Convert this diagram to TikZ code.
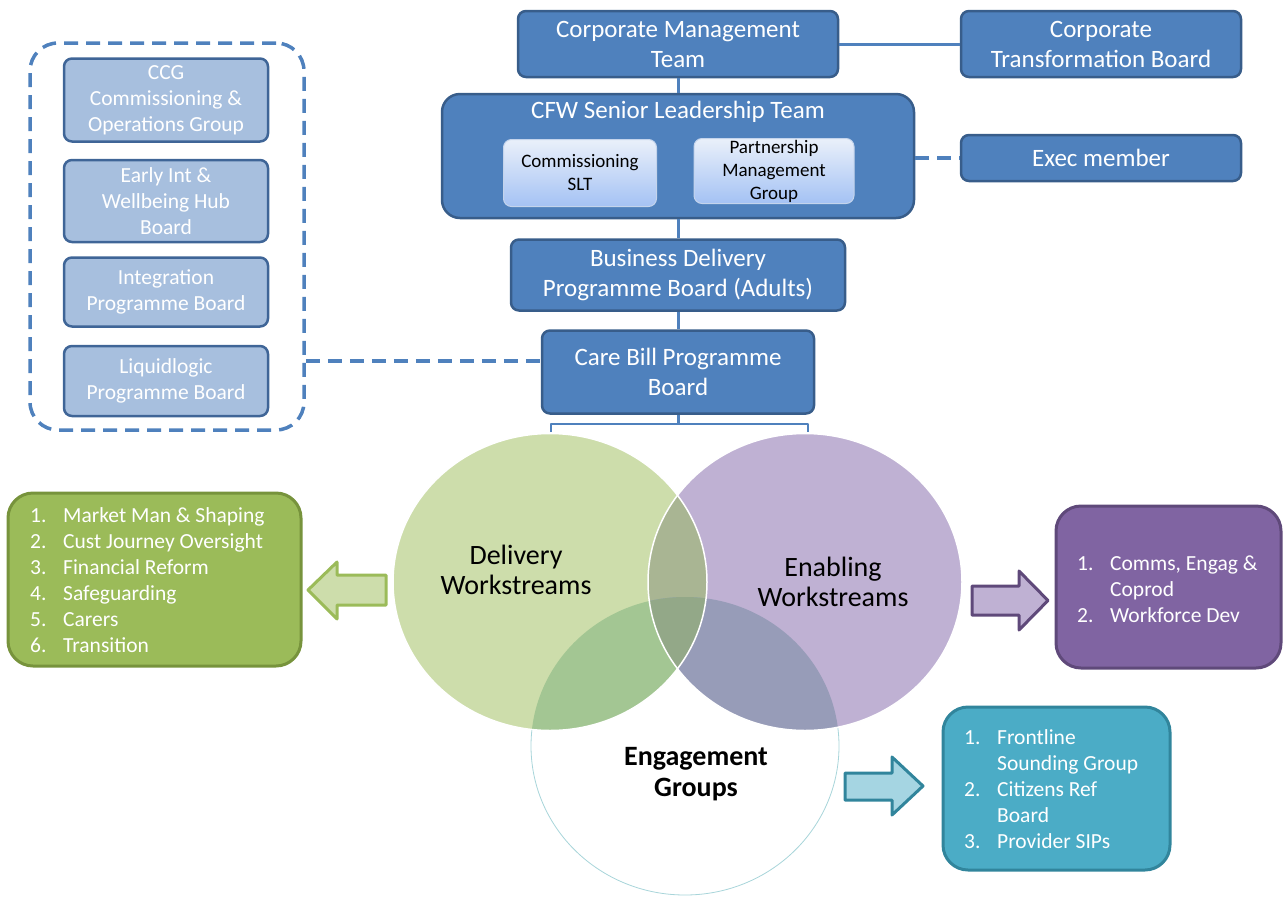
\documentclass[tikz,border=0pt]{standalone}
\usepackage{fontspec}
\setmainfont{Carlito}
\usepackage{tikz}
\usetikzlibrary{positioning}
\usepackage{xcolor}
\definecolor{boardblue}{HTML}{4F81BD}
\definecolor{boarddark}{HTML}{385D8A}
\definecolor{subblue}{HTML}{A7BFDE}
\definecolor{subedge}{HTML}{3F6597}
\definecolor{slttop}{HTML}{EAF0FA}
\definecolor{sltbottom}{HTML}{A4C2F4}
\definecolor{sltedge}{HTML}{C4D4EC}
\definecolor{delivfill}{HTML}{CDDDAB}
\definecolor{enabfill}{HTML}{BFB1D3}
\definecolor{lensfill}{HTML}{A9B593}
\definecolor{dgfill}{HTML}{A3C693}
\definecolor{egfill}{HTML}{979CB8}
\definecolor{triplefill}{HTML}{93A888}
\definecolor{engline}{HTML}{A8D5DA}
\definecolor{greenfill}{HTML}{9BBB59}
\definecolor{greenedge}{HTML}{77933C}
\definecolor{purplefill}{HTML}{8064A2}
\definecolor{purpleedge}{HTML}{5F497A}
\definecolor{tealfill}{HTML}{4BACC6}
\definecolor{tealedge}{HTML}{31859C}
\definecolor{tealarrow}{HTML}{A5D5E2}
\newcommand\itemlist[1]{\begin{tabular}{@{}p{33pt}@{}l@{}}#1\end{tabular}}

\begin{document}
\begin{tikzpicture}[x=1pt, y=-1pt, line join=round,
	board/.style={draw=boarddark, fill=boardblue, line width=2.5pt, rounded corners=8pt, text=white, align=center, inner sep=0pt, font=\fontsize{25}{30}\selectfont},
	subboard/.style={draw=subedge, fill=subblue, line width=2.5pt, rounded corners=8pt, text=white, align=center, inner sep=0pt, minimum width=204pt, font=\fontsize{21.5}{26}\selectfont},
	sltbox/.style={draw=sltedge, line width=1pt, top color=slttop, bottom color=sltbottom, rounded corners=8pt, text=black, align=center, inner sep=0pt, font=\fontsize{19}{23}\selectfont},
	link/.style={draw=boardblue, line width=3pt},
	dashlink/.style={draw=boardblue, line width=4pt, dash pattern=on 14pt off 8pt},
	listbox/.style={rounded corners=25pt, line width=3pt, inner sep=0pt},
	listtext/.style={text=white, anchor=west, inner sep=0pt, font=\fontsize{21.5}{26}\selectfont},
	venntext/.style={align=center, inner sep=0pt, font=\fontsize{28}{30}\selectfont},
	dshape/.style={insert path={(dc) ellipse [x radius=157, y radius=148.5]}},
	eshape/.style={insert path={(ec) ellipse [x radius=157, y radius=148.5]}},
	gshape/.style={insert path={(gc) ellipse [x radius=154, y radius=149]}}]
	\useasboundingbox (0,0) rectangle (1286,898);

	\node[board, minimum width=320pt, minimum height=66pt] (cmt) at (678,44) {Corporate Management\\Team};
	\node[board, minimum width=280pt, minimum height=66pt] (ctb) at (1101,44) {Corporate\\Transformation Board};
	\node[board, rounded corners=18pt, minimum width=472pt, minimum height=124pt] (cfw) at (678,156) {};
	\node[text=white, inner sep=0pt, font=\fontsize{25}{30}\selectfont] (cfwtitle) at (678,112) {CFW Senior Leadership Team};
	\node[sltbox, minimum width=153pt, minimum height=67pt] (cslt) at (580,173) {Commissioning\\SLT};
	\node[sltbox, minimum width=160pt, minimum height=65pt] (pmg) at (774,171) {Partnership\\Management\\Group};
	\node[board, minimum width=280pt, minimum height=46pt] (exec) at (1101,158) {Exec member};
	\node[board, minimum width=334pt, minimum height=71pt] (bdpb) at (678,275) {Business Delivery\\Programme Board (Adults)};
	\node[board, minimum width=272pt, minimum height=83pt] (cbpb) at (678,372) {Care Bill Programme\\Board};

	\node[draw=boardblue, line width=3.5pt, dash pattern=on 14pt off 8pt, rounded corners=28pt, minimum width=274pt, minimum height=387pt, inner sep=0pt] (grp) at (167,236.5) {};
	\node[subboard, minimum height=83pt] (ccg) at (166,100) {CCG\\Commissioning \&\\Operations Group};
	\node[subboard, minimum height=82pt] (eiwb) at (166,201) {Early Int \&\\Wellbeing Hub\\Board};
	\node[subboard, minimum height=69pt] (ipb) at (166,292) {Integration\\Programme Board};
	\node[subboard, minimum height=70pt] (lpb) at (166,381) {Liquidlogic\\Programme Board};

	\draw[link] (cmt) -- (ctb);
	\draw[link] (cmt) -- (cfw);
	\draw[link] (cfw) -- (bdpb);
	\draw[link] (bdpb) -- (cbpb);
	\draw[dashlink] (cfw.east |- exec) -- (exec);
	\coordinate (cbtap) at ([yshift=11pt]cbpb.west);
	\draw[dashlink] (grp.east |- cbtap) -- (cbtap);
	\coordinate (fork) at ([yshift=-9pt]cbpb.south);
	\coordinate (dtip) at (551,432);
	\coordinate (etip) at (808,432);
	\draw[link] (cbpb) -- (fork);
	\draw[link, line width=2.5pt] (dtip) |- (fork) -| (etip);

	\coordinate (dc) at (550,582);
	\coordinate (ec) at (805,582);
	\coordinate (gc) at (685,746);
	\filldraw[fill=white, draw=engline, line width=0.8pt, gshape];
	\fill[delivfill, dshape];
	\fill[enabfill, eshape];
	\begin{scope}
		\clip[dshape];
		\fill[lensfill, eshape];
		\fill[dgfill, gshape];
	\end{scope}
	\begin{scope}
		\clip[eshape];
		\fill[egfill, gshape];
	\end{scope}
	\begin{scope}
		\clip[dshape];
		\clip[eshape];
		\fill[triplefill, gshape];
	\end{scope}
	\draw[white, line width=1.5pt, dshape];
	\draw[white, line width=1.5pt, eshape];
	\node[venntext] (deliv) at (516,570) {Delivery\\Workstreams};
	\node[venntext] (enab) at (833,582) {Enabling\\Workstreams};
	\node[venntext, font=\bfseries\fontsize{28}{31}\selectfont] (engag) at (696,774) {Engagement\\Groups};

	\node[listbox, draw=greenedge, fill=greenfill, minimum width=293pt, minimum height=173pt] (delivbox) at (154.5,579.5) {};
	\node[listtext] (delivitems) at (30,582) {\itemlist{1.&Market Man \& Shaping\\2.&Cust Journey Oversight\\3.&Financial Reform\\4.&Safeguarding\\5.&Carers\\6.&Transition}};
	\node[listbox, draw=purpleedge, fill=purplefill, minimum width=225pt, minimum height=162pt] (enabbox) at (1168.5,587) {};
	\node[listtext] (enabitems) at (1077,591) {\itemlist{1.&Comms, Engag \&\\&Coprod\\2.&Workforce Dev}};
	\node[listbox, draw=tealedge, fill=tealfill, minimum width=227pt, minimum height=163pt] (engagbox) at (1056.5,788.5) {};
	\node[listtext] (engagitems) at (964,791.5) {\itemlist{1.&Frontline\\&Sounding Group\\2.&Citizens Ref\\&Board\\3.&Provider SIPs}};

	\filldraw[fill=delivfill, draw=greenfill, line width=3pt] (386,575) -- (337,575) -- (337,562) -- (308,590) -- (337,619) -- (337,605) -- (386,605) -- cycle;
	\filldraw[fill=enabfill, draw=purpleedge, line width=3pt] (972,586) -- (1019,586) -- (1019,571) -- (1048,600.5) -- (1019,630) -- (1019,615) -- (972,615) -- cycle;
	\filldraw[fill=tealarrow, draw=tealedge, line width=3pt] (845,773) -- (892,773) -- (892,757) -- (923,786) -- (892,815) -- (892,800) -- (845,800) -- cycle;
\end{tikzpicture}
\end{document}
